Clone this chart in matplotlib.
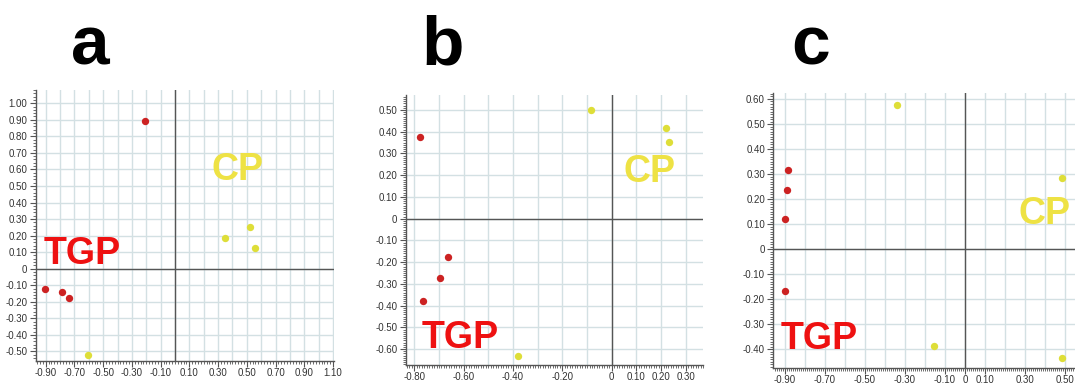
import numpy as np
import matplotlib
matplotlib.use("Agg")
import matplotlib.pyplot as plt
from matplotlib.ticker import MultipleLocator, FixedLocator

plt.rcParams['font.family'] = ['Liberation Sans', 'DejaVu Sans']

# score plots, one per panel: red = TGP samples, yellow = CP samples
a_red_x = [-0.21, -0.905, -0.785, -0.74]
a_red_y = [0.89, -0.123, -0.139, -0.175]
a_yel_x = [-0.605, 0.345, 0.52, 0.56]
a_yel_y = [-0.52, 0.185, 0.25, 0.123]

b_red_x = [-0.777, -0.662, -0.695, -0.766]
b_red_y = [0.377, -0.175, -0.271, -0.38]
b_yel_x = [-0.083, 0.218, 0.234, -0.378]
b_yel_y = [0.50, 0.416, 0.351, -0.63]

c_red_x = [-0.883, -0.887, -0.897, -0.90]
c_red_y = [0.316, 0.238, 0.122, -0.169]
c_yel_x = [-0.342, 0.483, -0.157, 0.483]
c_yel_y = [0.576, 0.285, -0.387, -0.436]

a_xticks = [-0.9, -0.7, -0.5, -0.3, -0.1, 0.1, 0.3, 0.5, 0.7, 0.9, 1.1]
b_xticks = [-0.8, -0.6, -0.4, -0.2, 0.0, 0.1, 0.2, 0.3]
c_xticks = [-0.9, -0.7, -0.5, -0.3, -0.1, 0.0, 0.1, 0.3, 0.5]

RED = '#cc2222'
YEL = '#dede38'
GRID = '#d3e0e3'
AX = '#555555'


def fmt(v):
    return '0' if abs(v) < 1e-9 else '%.2f' % v


def panel(rect, xlim, ylim, xticks, red, yel, tgp, cp, minor):
    ax = fig.add_axes(rect)
    ax.set_xlim(*xlim)
    ax.set_ylim(*ylim)
    for s in ('top', 'right'):
        ax.spines[s].set_visible(False)
    for s in ('left', 'bottom'):
        ax.spines[s].set_color(AX)
        ax.spines[s].set_linewidth(1.0)

    # light grid every 0.1
    for g in np.arange(np.ceil(xlim[0] * 10), np.floor(xlim[1] * 10) + 1) / 10:
        ax.axvline(g, color=GRID, lw=1.0, zorder=0)
    for g in np.arange(np.ceil(ylim[0] * 10), np.floor(ylim[1] * 10) + 1) / 10:
        ax.axhline(g, color=GRID, lw=1.0, zorder=0)
    ax.axvline(0, color=AX, lw=1.0, zorder=1)
    ax.axhline(0, color=AX, lw=1.0, zorder=1)

    yticks = np.arange(np.ceil(ylim[0] * 10), np.floor(ylim[1] * 10) + 1) / 10
    ax.xaxis.set_major_locator(FixedLocator(xticks))
    ax.yaxis.set_major_locator(FixedLocator(yticks))
    ax.set_xticklabels([fmt(v) for v in xticks])
    ax.set_yticklabels([fmt(v) for v in yticks])
    ax.xaxis.set_minor_locator(MultipleLocator(minor))
    ax.yaxis.set_minor_locator(MultipleLocator(minor))
    ax.tick_params(which='major', length=4, width=0.8, color=AX,
                   labelsize=7, labelcolor='#333333', pad=2)
    ax.tick_params(axis='x', which='major', pad=1)
    ax.tick_params(which='minor', length=2, width=0.6, color=AX)

    ax.scatter(red[0], red[1], s=28, color=RED, zorder=3, linewidths=0)
    ax.scatter(yel[0], yel[1], s=28, color=YEL, zorder=3, linewidths=0)

    ax.text(tgp[0], tgp[1], 'TGP', color='#ee1111', fontsize=27,
            fontweight='bold', ha='center', va='baseline', zorder=4)
    ax.text(cp[0], cp[1], 'CP', color='#eee244', fontsize=27,
            fontweight='bold', ha='center', va='baseline', zorder=4)
    return ax


fig = plt.figure(figsize=(10.75, 3.86), dpi=100)

panel([0.0332, 0.0648, 0.2775, 0.702], (-0.970, 1.107), (-0.558, 1.080),
      a_xticks, (a_red_x, a_red_y), (a_yel_x, a_yel_y),
      (-0.648, 0.028), (0.432, 0.536), 0.02)
panel([0.3774, 0.0544, 0.2768, 0.6995], (-0.835, 0.371), (-0.673, 0.569),
      b_xticks, (b_red_x, b_red_y), (b_yel_x, b_yel_y),
      (-0.615, -0.596), (0.155, 0.170), 0.01)
panel([0.7193, 0.0465, 0.2807, 0.7126], (-0.958, 0.55), (-0.475, 0.624),
      c_xticks, (c_red_x, c_red_y), (c_yel_x, c_yel_y),
      (-0.73, -0.399), (0.396, 0.100), 0.01)

for x, s in ((0.0837, 'a'), (0.4116, 'b'), (0.7544, 'c')):
    fig.text(x, 0.832, s, fontsize=50, fontweight='bold',
             ha='center', va='baseline')

fig.savefig('out.png', dpi=100)
